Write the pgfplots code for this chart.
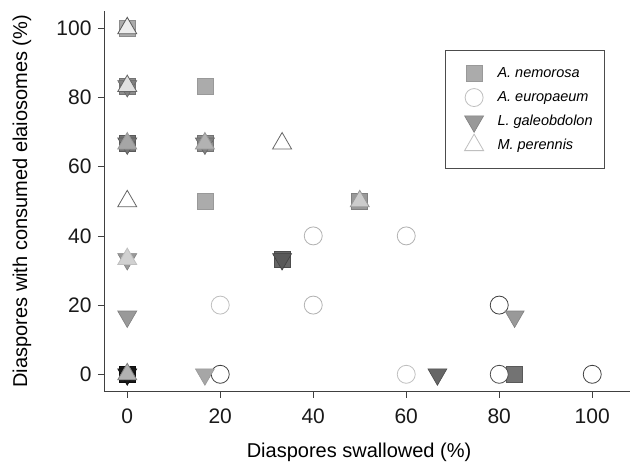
\documentclass[border=0pt]{standalone}
\usepackage{pgfplots}
\usepackage{pgfplotstable}
\pgfplotsset{compat=1.18}
\usepackage{fontspec}
\setmainfont{Liberation Sans}

\pgfplotstableread{
x y fl dr
0 100 33 45
0 83.3 45 55
0 66.7 55 65
16.7 83.3 33 40
16.7 66.7 45 55
16.7 50 33 40
33.3 33.3 60 70
50 50 40 50
83.3 0 55 65
0 0 90 95
}\nemorosa

\pgfplotstableread{
x y fl dr
20 20 0 25
20 0 0 75
40 40 0 30
40 20 0 30
60 40 0 30
60 0 0 25
80 20 0 75
80 0 0 70
100 0 0 75
}\europaeum

\pgfplotstableread{
x y fl dr
0 83.3 50 60
0 66.7 55 65
0 33.3 40 50
0 16.7 40 50
0 0 90 95
16.7 66.7 50 60
16.7 0 35 40
33.3 33.3 65 75
66.7 0 60 70
83.3 16.7 40 50
}\galeobdolon

\pgfplotstableread{
x y fl dr
0 100 7 65
0 83.3 12 60
0 66.7 35 40
0 50 0 60
0 33.3 18 25
0 0 30 50
16.7 66.7 30 40
33.3 66.7 0 60
50 50 20 40
}\perennis

\pgfplotsset{
  perpt/.style={
    only marks, scatter, forget plot,
    visualization depends on={\thisrow{fl} \as \myfillval},
    visualization depends on={\thisrow{dr} \as \mydrawval},
    scatter/@pre marker code/.code={\scope[fill=black!\myfillval,draw=black!\mydrawval]},
    scatter/@post marker code/.code={\endscope},
  }
}

\begin{document}
\begin{tikzpicture}
\path[use as bounding box] (-104bp,-79bp) rectangle (528bp,391.6bp);
\begin{axis}[
  at={(0,0)}, anchor=south west,
  x=4.65bp, y=3.46bp,
  xmin=-5, xmax=108.2, ymin=-5, ymax=105,
  axis x line*=bottom, axis y line*=left,
  axis line style={draw=black!75, line width=0.8pt},
  tick align=outside,
  xtick={0,20,...,100}, ytick={0,20,...,100},
  minor tick num=0,
  major tick length=6bp,
  tick style={draw=black!75, line width=0.8pt},
  ticklabel style={font=\fontsize{21bp}{24bp}\selectfont, text=black!90},
  xticklabel style={yshift=-8bp},
  yticklabel style={xshift=-3bp},
  /pgf/number format/assume math mode=true,
  xlabel={Diaspores swallowed (\%)},
  ylabel={Diaspores with consumed elaiosomes (\%)},
  label style={font=\fontsize{20bp}{23bp}\selectfont},
  xlabel style={at={(axis description cs:0.4845,-0.16)}, anchor=center},
  ylabel style={at={(axis description cs:-0.156,0.5)}, anchor=center},
  clip=false,
  legend style={at={(axis cs:68.4,93.6)}, anchor=north west, draw=black!70, line width=0.8pt,
    fill=white, font=\fontsize{14.5bp}{17bp}\selectfont\itshape,
    inner xsep=10bp, inner ysep=11bp, row sep=0bp, column sep=7bp},
  legend cell align=left,
  legend image code/.code={\path (-18bp,-11.5bp) (14bp,11.5bp); \draw[#1] plot coordinates {(0,0)};},
]
\addplot[perpt, mark=square*, mark size=8bp, mark options={line width=0.6pt}] table[x=x,y=y] {\nemorosa};
\addplot[perpt, mark=*, mark size=9bp, mark options={line width=0.8pt}] table[x=x,y=y] {\europaeum};
\addplot[perpt, mark=triangle*, mark size=11bp, mark options={rotate=180, line width=0.6pt}] table[x=x,y=y] {\galeobdolon};
\addplot[perpt, mark=triangle*, mark size=11bp, mark options={line width=0.8pt}] table[x=x,y=y] {\perennis};

\addlegendimage{only marks, mark=square*, mark size=8bp, mark options={fill=black!33, draw=black!40, line width=0.6pt}}
\addlegendentry{A. nemorosa}
\addlegendimage{only marks, mark=*, mark size=9bp, mark options={fill=white, draw=black!25, line width=0.8pt}}
\addlegendentry{A. europaeum}
\addlegendimage{only marks, mark=triangle*, mark size=11bp, mark options={rotate=180, fill=black!40, draw=black!50, line width=0.6pt}}
\addlegendentry{L. galeobdolon}
\addlegendimage{only marks, mark=triangle*, mark size=11bp, mark options={fill=white, draw=black!25, line width=0.8pt}}
\addlegendentry{M. perennis}
\end{axis}
\end{tikzpicture}
\end{document}
